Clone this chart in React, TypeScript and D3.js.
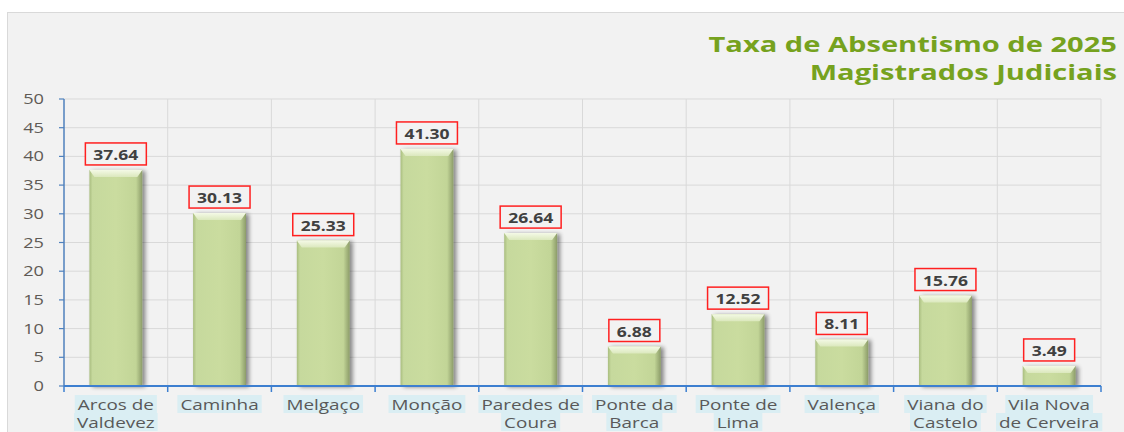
import React, { useEffect, useRef } from "react";
import * as d3 from "d3";

const categories: string[][] = [
  ["Arcos de", "Valdevez"],
  ["Caminha"],
  ["Melgaço"],
  ["Monção"],
  ["Paredes de", "Coura"],
  ["Ponte da", "Barca"],
  ["Ponte de", "Lima"],
  ["Valença"],
  ["Viana do", "Castelo"],
  ["Vila Nova", "de Cerveira"],
];
const values: number[] = [37.64, 30.13, 25.33, 41.3, 26.64, 6.88, 12.52, 8.11, 15.76, 3.49];
const yTicks: number[] = [0, 5, 10, 15, 20, 25, 30, 35, 40, 45, 50];
const titleLines: string[] = ["Taxa de Absentismo de 2025", "Magistrados Judiciais"];

const W = 1124;
const H = 432;
const SX = 1.3;
const FONT = "'Open Sans', sans-serif";

export default function App() {
  const ref = useRef<SVGSVGElement>(null);
  useEffect(() => {
    const svg = d3.select(ref.current);
    svg.selectAll("*").remove();

    const left = 64, right = 1101, top = 99, bottom = 386;
    const x = d3.scaleBand<number>().domain(d3.range(values.length)).range([left, right]).paddingInner(0.49).paddingOuter(0.245);
    const y = d3.scaleLinear().domain([0, 50]).range([bottom, top]);
    const step = x.step();

    const defs = svg.append("defs");
    const g1 = defs.append("linearGradient").attr("id", "barG").attr("x1", 0).attr("x2", 1).attr("y1", 0).attr("y2", 0);
    [["0", "#a9bd7f"], ["0.06", "#c6d99d"], ["0.5", "#cadc9f"], ["0.88", "#c2d597"], ["1", "#8c9c69"]].forEach(([o, c]) =>
      g1.append("stop").attr("offset", o).attr("stop-color", c));
    const g2 = defs.append("linearGradient").attr("id", "capG").attr("x1", 0).attr("x2", 0).attr("y1", 0).attr("y2", 1);
    [["0", "#f4f9e6"], ["1", "#dbe8bd"]].forEach(([o, c]) => g2.append("stop").attr("offset", o).attr("stop-color", c));
    const f = defs.append("filter").attr("id", "sh").attr("x", "-20%").attr("y", "-20%").attr("width", "150%").attr("height", "140%");
    f.append("feGaussianBlur").attr("in", "SourceAlpha").attr("stdDeviation", 2);
    f.append("feOffset").attr("dx", 3).attr("dy", 1).attr("result", "b");
    f.append("feComponentTransfer").append("feFuncA").attr("type", "linear").attr("slope", 0.45);
    const fm = f.append("feMerge");
    fm.append("feMergeNode");
    fm.append("feMergeNode").attr("in", "SourceGraphic");

    // panel
    svg.append("rect").attr("x", 7.5).attr("y", 12.5).attr("width", W).attr("height", H)
      .attr("fill", "#f2f2f2").attr("stroke", "#d9d9d9");

    // title
    titleLines.forEach((t, i) => {
      svg.append("text").attr("transform", `translate(1117,${52 + i * 28}) scale(1.42,1)`)
        .attr("text-anchor", "end").attr("font-family", FONT).attr("font-weight", "bold")
        .attr("font-size", 20.5).attr("fill", "#76a21e").text(t);
    });

    // grid
    yTicks.forEach((t) => {
      if (t === 0) return;
      svg.append("line").attr("x1", left).attr("x2", right).attr("y1", y(t)).attr("y2", y(t))
        .attr("stroke", "#d9d9d9").attr("stroke-width", 1);
    });
    for (let i = 1; i <= values.length; i++) {
      const xx = left + i * step;
      svg.append("line").attr("x1", xx).attr("x2", xx).attr("y1", top).attr("y2", bottom)
        .attr("stroke", "#d9d9d9").attr("stroke-width", 1);
    }

    // y tick labels
    yTicks.forEach((t) => {
      svg.append("text").attr("transform", `translate(44,${y(t) + 5}) scale(${SX},1)`)
        .attr("text-anchor", "end").attr("font-family", FONT).attr("font-size", 14)
        .attr("fill", "#5f5a55").text(String(t));
    });

    // bars
    values.forEach((v, i) => {
      const bx = x(i)!, bw = x.bandwidth(), by = y(v), bh = bottom - by;
      const bg = svg.append("g").attr("filter", "url(#sh)");
      bg.append("rect").attr("x", bx).attr("y", by).attr("width", bw).attr("height", bh).attr("fill", "url(#barG)");
      const ch = Math.min(7, bh);
      bg.append("path").attr("d", `M${bx},${by}L${bx + bw},${by}L${bx + bw - 5},${by + ch}L${bx + 5},${by + ch}Z`)
        .attr("fill", "url(#capG)");
    });

    // axes
    svg.append("line").attr("x1", left).attr("x2", left).attr("y1", top).attr("y2", bottom).attr("stroke", "#4f81bd").attr("stroke-width", 1.5);
    yTicks.forEach((t) => {
      svg.append("line").attr("x1", left - 5).attr("x2", left).attr("y1", y(t)).attr("y2", y(t)).attr("stroke", "#4f81bd").attr("stroke-width", 1.2);
    });
    svg.append("line").attr("x1", left).attr("x2", right).attr("y1", bottom).attr("y2", bottom).attr("stroke", "#3d7fd0").attr("stroke-width", 1.8);
    for (let i = 0; i <= values.length; i++) {
      const xx = left + i * step;
      svg.append("line").attr("x1", xx).attr("x2", xx).attr("y1", bottom).attr("y2", bottom + 6).attr("stroke", "#3d7fd0").attr("stroke-width", 1.5);
    }

    // value labels
    values.forEach((v, i) => {
      const cx = x(i)! + x.bandwidth() / 2;
      const by = y(v);
      const g = svg.append("g");
      const rect = g.append("rect");
      const tx = g.append("text").attr("transform", `translate(${cx},${by - 10}) scale(1.25,1)`)
        .attr("text-anchor", "middle").attr("font-family", FONT).attr("font-weight", "bold")
        .attr("font-size", 14).attr("fill", "#404040").text(v.toFixed(2));
      const tw = (tx.node() as SVGTextElement).getComputedTextLength() * 1.25;
      const bw = tw + 16;
      rect.attr("x", cx - bw / 2).attr("y", by - 27).attr("width", bw).attr("height", 22)
        .attr("fill", "#f2f2f2").attr("stroke", "#ff2020").attr("stroke-width", 1.5);
    });

    // category labels
    categories.forEach((lines, i) => {
      const cx = x(i)! + x.bandwidth() / 2;
      lines.forEach((ln, j) => {
        const g = svg.append("g");
        const rect = g.append("rect");
        const tx = g.append("text").attr("transform", `translate(${cx},${410 + j * 18}) scale(1.35,1)`)
          .attr("text-anchor", "middle").attr("font-family", FONT).attr("font-size", 14)
          .attr("fill", "#595959").text(ln);
        const tw = (tx.node() as SVGTextElement).getComputedTextLength() * 1.35;
        rect.attr("x", cx - tw / 2 - 3).attr("y", 395 + j * 18).attr("width", tw + 6).attr("height", 18)
          .attr("fill", "#daeef3");
      });
    });
  }, []);

  return (
    <svg ref={ref} width={W} height={H} style={{ position: "absolute", left: 0, top: 0, display: "block" }} />
  );
}
